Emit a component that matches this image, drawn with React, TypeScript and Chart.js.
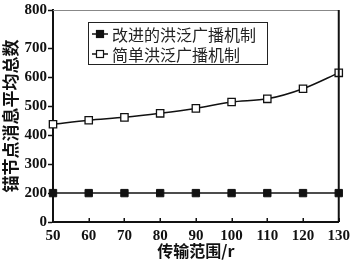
import React, { useEffect, useRef } from "react";
import { Chart, registerables, LinearScale } from "chart.js";

Chart.register(...registerables);

// ---- data ----
const categories = ["50", "60", "70", "80", "90", "100", "110", "120", "130"];
const improvedValues = [200, 200, 200, 200, 200, 200, 200, 200, 200];
const simpleValues = [438, 452, 462, 476, 493, 515, 526, 561, 616];
const seriesNames = ["改进的洪泛广播机制", "简单洪泛广播机制"];
const yTickValues = [0, 200, 300, 400, 500, 600, 700, 800];
const yAxisTitle = "锚节点消息平均总数";
const xAxisTitle = "传输范围/r";

// broken (piecewise linear) y axis: value breakpoints and their fraction of the axis
const Y_BREAK_VALUES = [0, 200, 700, 800];
const Y_BREAK_FRACS = [0, 30 / 220, 180 / 220, 1];

function valueToFrac(v: number): number {
  const vs = Y_BREAK_VALUES, fs = Y_BREAK_FRACS;
  if (v <= vs[0]) return fs[0] + ((v - vs[0]) / (vs[1] - vs[0])) * (fs[1] - fs[0]);
  for (let i = 1; i < vs.length; i++) {
    if (v <= vs[i] || i === vs.length - 1) {
      return fs[i - 1] + ((v - vs[i - 1]) / (vs[i] - vs[i - 1])) * (fs[i] - fs[i - 1]);
    }
  }
  return 1;
}
function fracToValue(f: number): number {
  const vs = Y_BREAK_VALUES, fs = Y_BREAK_FRACS;
  for (let i = 1; i < fs.length; i++) {
    if (f <= fs[i] || i === fs.length - 1) {
      return vs[i - 1] + ((f - fs[i - 1]) / (fs[i] - fs[i - 1])) * (vs[i] - vs[i - 1]);
    }
  }
  return vs[vs.length - 1];
}

class BrokenScale extends (LinearScale as any) {
  static id = "broken";
  static defaults = (LinearScale as any).defaults;
  getPixelForValue(value: any) {
    if (value === null || value === undefined || isNaN(value)) return NaN;
    return (this as any).getPixelForDecimal(valueToFrac(Number(value)));
  }
  getValueForPixel(pixel: number) {
    return fracToValue((this as any).getDecimalForPixel(pixel));
  }
}
Chart.register(BrokenScale as any);

const frameAndLegend = {
  id: "frameAndLegend",
  afterDraw(chart: any) {
    const { ctx, chartArea } = chart;
    const { left, right, top, bottom } = chartArea;
    ctx.save();
    // top border
    ctx.strokeStyle = "#888";
    ctx.lineWidth = 1;
    ctx.beginPath();
    ctx.moveTo(left, top + 0.5);
    ctx.lineTo(right, top + 0.5);
    ctx.stroke();
    // right border
    ctx.strokeStyle = "#111";
    ctx.lineWidth = 2;
    ctx.beginPath();
    ctx.moveTo(right, top);
    ctx.lineTo(right, bottom);
    ctx.stroke();
    // inward x ticks
    const xs = chart.scales.x;
    ctx.lineWidth = 1.5;
    for (let i = 0; i < xs.ticks.length; i++) {
      const px = Math.round(xs.getPixelForTick(i)) + 0.25;
      ctx.beginPath();
      ctx.moveTo(px, bottom);
      ctx.lineTo(px, bottom - 4);
      ctx.stroke();
    }
    // legend
    const bx = left + 35, by = top + 12, bw = 179, bh = 42;
    ctx.fillStyle = "#fff";
    ctx.fillRect(bx, by, bw, bh);
    ctx.strokeStyle = "#222";
    ctx.lineWidth = 1;
    ctx.strokeRect(bx + 0.5, by + 0.5, bw, bh);
    ctx.font = "16px 'Noto Sans CJK SC'";
    ctx.textBaseline = "middle";
    ctx.textAlign = "left";
    chart.data.datasets.forEach((ds: any, i: number) => {
      const cy = by + 12 + i * 20;
      ctx.strokeStyle = "#111";
      ctx.lineWidth = 1.5;
      ctx.beginPath();
      ctx.moveTo(bx + 4, cy);
      ctx.lineTo(bx + 20, cy);
      ctx.stroke();
      const s = 7;
      ctx.fillStyle = ds.pointBackgroundColor;
      ctx.fillRect(bx + 12 - s / 2, cy - s / 2, s, s);
      ctx.lineWidth = 1.2;
      ctx.strokeRect(bx + 12 - s / 2, cy - s / 2, s, s);
      ctx.fillStyle = "#222";
      ctx.fillText(ds.label, bx + 24, cy + 1);
    });
    ctx.restore();
  },
};

export default function App() {
  const ref = useRef<HTMLCanvasElement | null>(null);
  useEffect(() => {
    document.body.style.margin = "0";
    const canvas = ref.current!;
    const tickFont = { family: "'Liberation Serif'", size: 15, weight: "bold" as const };
    const chart = new Chart(canvas, {
      type: "line",
      data: {
        labels: categories,
        datasets: [
          {
            label: seriesNames[0],
            data: improvedValues,
            borderColor: "#111",
            borderWidth: 1.5,
            pointStyle: "rect",
            pointRadius: 5.2,
            pointBackgroundColor: "#111",
            pointBorderColor: "#111",
            pointBorderWidth: 1,
            tension: 0,
          },
          {
            label: seriesNames[1],
            data: simpleValues,
            borderColor: "#111",
            borderWidth: 1.5,
            pointStyle: "rect",
            pointRadius: 5.2,
            pointBackgroundColor: "#fff",
            pointBorderColor: "#111",
            pointBorderWidth: 1.3,
            tension: 0.3,
          },
        ],
      },
      options: {
        animation: false,
        responsive: false,
        devicePixelRatio: 1,
        layout: { padding: { top: 2, right: 13, left: 0, bottom: 0 } },
        plugins: { legend: { display: false }, tooltip: { enabled: false } },
        scales: {
          x: {
            type: "category",
            offset: false,
            grid: { display: true, drawOnChartArea: false, drawTicks: false },
            border: { display: true, color: "#111", width: 2 },
            ticks: { color: "#111", font: tickFont, padding: 5, maxRotation: 0, autoSkip: false },
            title: {
              display: true,
              text: xAxisTitle,
              color: "#111",
              font: { family: "'Noto Sans CJK SC'", size: 16, weight: "bold" },
              padding: 0,
            },
            afterFit: (s: any) => {
              s.height = 39;
            },
          },
          y: {
            type: "broken" as any,
            min: 0,
            max: 800,
            grid: { drawOnChartArea: false, drawTicks: true, tickLength: 5, color: "#111", tickWidth: 1.5 } as any,
            border: { display: true, color: "#111", width: 2 },
            ticks: { color: "#111", font: tickFont, padding: 1 },
            afterBuildTicks: (s: any) => {
              s.ticks = yTickValues.map((v) => ({ value: v }));
            },
            title: {
              display: true,
              text: yAxisTitle,
              color: "#111",
              font: { family: "'Noto Sans CJK SC'", size: 17, weight: "bold" },
              padding: 0,
            },
            afterFit: (s: any) => {
              s.width = 53;
            },
          } as any,
        },
      },
      plugins: [frameAndLegend],
    });
    return () => chart.destroy();
  }, []);
  return (
    <div style={{ width: 355, height: 261 }}>
      <canvas ref={ref} width={355} height={261} style={{ width: 355, height: 261, display: "block" }} />
    </div>
  );
}
